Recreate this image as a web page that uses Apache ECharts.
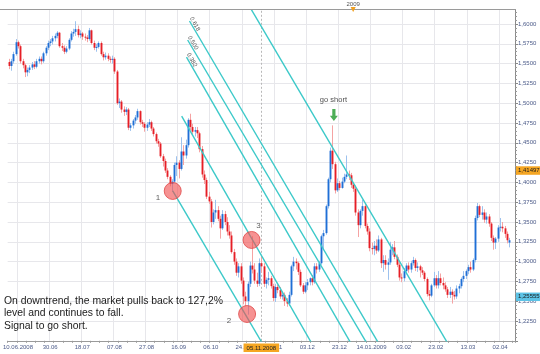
<!DOCTYPE html>
<html><head><meta charset="utf-8">
<script src="https://cdn.jsdelivr.net/npm/echarts@6/dist/echarts.min.js"></script>
<style>html,body{margin:0;padding:0;background:#fff}#c{width:540px;height:354px}</style>
</head><body><div id="c"></div>
<script>
// EUR/USD daily candles, [open, close, low, high], from 04.06.2008
const ohlc = [
[1.5520,1.5470,1.5430,1.5560],[1.5470,1.5530,1.5410,1.5560],[1.5530,1.5620,1.5500,1.5650],[1.5620,1.5770,1.5600,1.5810],
[1.5770,1.5720,1.5690,1.5790],[1.5720,1.5530,1.5500,1.5740],[1.5530,1.5480,1.5440,1.5560],[1.5480,1.5390,1.5330,1.5500],
[1.5390,1.5420,1.5340,1.5450],[1.5420,1.5450,1.5380,1.5480],[1.5450,1.5490,1.5420,1.5520],[1.5490,1.5460,1.5430,1.5530],
[1.5460,1.5530,1.5440,1.5560],[1.5530,1.5560,1.5500,1.5590],[1.5560,1.5530,1.5490,1.5590],[1.5530,1.5630,1.5510,1.5650],
[1.5630,1.5700,1.5600,1.5720],[1.5700,1.5760,1.5670,1.5790],[1.5760,1.5780,1.5720,1.5810],[1.5780,1.5820,1.5740,1.5850],
[1.5820,1.5850,1.5780,1.5880],[1.5850,1.5890,1.5820,1.5910],[1.5890,1.5720,1.5700,1.5900],[1.5720,1.5700,1.5660,1.5760],
[1.5700,1.5650,1.5620,1.5730],[1.5650,1.5690,1.5630,1.5720],[1.5690,1.5800,1.5670,1.5820],[1.5800,1.5880,1.5780,1.5910],
[1.5880,1.5900,1.5840,1.5940],[1.5900,1.5935,1.5850,1.6035],[1.5935,1.5860,1.5830,1.5980],[1.5860,1.5880,1.5820,1.5920],
[1.5880,1.5840,1.5800,1.5900],[1.5840,1.5830,1.5790,1.5880],[1.5830,1.5810,1.5770,1.5860],[1.5810,1.5920,1.5790,1.5950],
[1.5920,1.5760,1.5740,1.5930],[1.5760,1.5700,1.5670,1.5790],[1.5700,1.5710,1.5650,1.5750],[1.5710,1.5760,1.5690,1.5780],
[1.5760,1.5620,1.5600,1.5780],[1.5620,1.5580,1.5540,1.5650],[1.5580,1.5600,1.5550,1.5640],[1.5600,1.5560,1.5530,1.5630],
[1.5560,1.5550,1.5510,1.5590],[1.5550,1.5560,1.5500,1.5600],[1.5560,1.5400,1.5370,1.5580],[1.5400,1.5000,1.4980,1.5420],
[1.5000,1.5020,1.4940,1.5060],[1.5020,1.4920,1.4880,1.5040],[1.4920,1.4890,1.4840,1.4960],[1.4890,1.4920,1.4850,1.4950],
[1.4920,1.4690,1.4660,1.4940],[1.4690,1.4720,1.4650,1.4750],[1.4720,1.4780,1.4680,1.4800],[1.4780,1.4820,1.4740,1.4850],
[1.4820,1.4900,1.4790,1.4930],[1.4900,1.4760,1.4730,1.4910],[1.4760,1.4740,1.4700,1.4790],[1.4740,1.4690,1.4640,1.4760],
[1.4690,1.4730,1.4650,1.4760],[1.4730,1.4760,1.4700,1.4800],[1.4760,1.4680,1.4650,1.4780],[1.4680,1.4610,1.4580,1.4700],
[1.4610,1.4520,1.4490,1.4630],[1.4520,1.4490,1.4450,1.4550],[1.4490,1.4330,1.4310,1.4510],[1.4330,1.4270,1.4200,1.4360],
[1.4270,1.4150,1.4120,1.4300],[1.4150,1.4070,1.4040,1.4180],[1.4070,1.3980,1.3950,1.4090],[1.3980,1.4010,1.3880,1.4040],
[1.4010,1.4220,1.3990,1.4250],[1.4220,1.4250,1.4080,1.4330],[1.4250,1.4170,1.4050,1.4280],[1.4170,1.4390,1.4150,1.4570],
[1.4390,1.4340,1.4220,1.4470],[1.4340,1.4470,1.4300,1.4540],[1.4470,1.4790,1.4440,1.4810],[1.4790,1.4700,1.4660,1.4867],
[1.4700,1.4640,1.4600,1.4740],[1.4640,1.4660,1.4580,1.4700],[1.4660,1.4620,1.4560,1.4700],[1.4620,1.4420,1.4380,1.4640],
[1.4420,1.4100,1.4060,1.4460],[1.4100,1.4030,1.3980,1.4150],[1.4030,1.3820,1.3790,1.4060],[1.3820,1.3760,1.3730,1.3880],
[1.3760,1.3500,1.3430,1.3790],[1.3500,1.3620,1.3470,1.3660],[1.3620,1.3650,1.3540,1.3780],[1.3650,1.3540,1.3510,1.3700],
[1.3540,1.3420,1.3290,1.3580],[1.3420,1.3600,1.3400,1.3650],[1.3600,1.3500,1.3460,1.3640],[1.3500,1.3380,1.3330,1.3560],
[1.3380,1.3330,1.3290,1.3460],[1.3330,1.3120,1.3100,1.3380],[1.3120,1.3000,1.2960,1.3160],[1.3000,1.2860,1.2820,1.3040],
[1.2860,1.2940,1.2800,1.2980],[1.2940,1.2760,1.2720,1.2980],[1.2760,1.2560,1.2460,1.2800],[1.2560,1.2500,1.2440,1.2620],
[1.2500,1.2720,1.2330,1.2750],[1.2720,1.2950,1.2680,1.3000],[1.2950,1.2900,1.2850,1.3320],[1.2900,1.2760,1.2720,1.2980],
[1.2760,1.2720,1.2680,1.2860],[1.2720,1.2980,1.2690,1.3040],[1.2980,1.2940,1.2860,1.3080],[1.2940,1.2720,1.2680,1.2980],
[1.2720,1.2770,1.2660,1.2800],[1.2770,1.2790,1.2700,1.2870],[1.2790,1.2690,1.2660,1.2820],[1.2690,1.2540,1.2500,1.2720],
[1.2540,1.2680,1.2490,1.2720],[1.2680,1.2640,1.2600,1.2710],[1.2640,1.2560,1.2530,1.2680],[1.2560,1.2580,1.2520,1.2620],
[1.2580,1.2500,1.2440,1.2610],[1.2500,1.2470,1.2430,1.2540],[1.2470,1.2580,1.2440,1.2620],[1.2580,1.2940,1.2560,1.2960],
[1.2940,1.3000,1.2880,1.3060],[1.3000,1.2980,1.2900,1.3040],[1.2980,1.2870,1.2830,1.3000],[1.2870,1.2700,1.2680,1.2900],
[1.2700,1.2620,1.2590,1.2730],[1.2620,1.2700,1.2600,1.2740],[1.2700,1.2740,1.2640,1.2780],[1.2740,1.2790,1.2700,1.2800],
[1.2790,1.2740,1.2700,1.2830],[1.2740,1.2940,1.2720,1.2980],[1.2940,1.2900,1.2850,1.2980],[1.2900,1.2980,1.2870,1.3010],
[1.2980,1.3320,1.2960,1.3340],[1.3320,1.3360,1.3160,1.3400],[1.3360,1.3700,1.3340,1.3720],[1.3700,1.4040,1.3670,1.4060],
[1.4040,1.4400,1.4000,1.4440],[1.4400,1.4230,1.4170,1.4720],[1.4230,1.3900,1.3860,1.4260],[1.3900,1.3990,1.3880,1.4050],
[1.3990,1.3930,1.3900,1.4020],[1.3930,1.4010,1.3920,1.4060],[1.4010,1.4070,1.3990,1.4110],[1.4070,1.4100,1.4040,1.4340],
[1.4100,1.4090,1.4030,1.4150],[1.4090,1.3970,1.3930,1.4120],[1.3970,1.3920,1.3880,1.4000],[1.3920,1.3620,1.3580,1.3960],
[1.3620,1.3460,1.3310,1.3660],[1.3460,1.3640,1.3420,1.3660],[1.3640,1.3700,1.3580,1.3780],[1.3700,1.3450,1.3420,1.3730],
[1.3450,1.3380,1.3340,1.3480],[1.3380,1.3170,1.3130,1.3420],[1.3170,1.3160,1.3090,1.3240],[1.3160,1.3200,1.3080,1.3260],
[1.3200,1.3140,1.3100,1.3280],[1.3140,1.3280,1.3120,1.3330],[1.3280,1.2980,1.2920,1.3300],[1.2980,1.3020,1.2870,1.3080],
[1.3020,1.2960,1.2900,1.3080],[1.2960,1.2990,1.2770,1.3040],[1.2990,1.3150,1.2960,1.3250],[1.3150,1.3180,1.3080,1.3220],
[1.3180,1.3060,1.3030,1.3260],[1.3060,1.2960,1.2930,1.3090],[1.2960,1.2800,1.2760,1.2990],[1.2800,1.2790,1.2740,1.2850],
[1.2790,1.2880,1.2750,1.2920],[1.2880,1.2950,1.2840,1.2980],[1.2950,1.2900,1.2860,1.2990],[1.2900,1.2980,1.2860,1.3010],
[1.2980,1.3020,1.2950,1.3060],[1.3020,1.2920,1.2880,1.3040],[1.2920,1.2940,1.2870,1.2990],[1.2940,1.2890,1.2800,1.2960],
[1.2890,1.2860,1.2830,1.2930],[1.2860,1.2780,1.2750,1.2880],[1.2780,1.2590,1.2560,1.2800],[1.2590,1.2570,1.2510,1.2640],
[1.2570,1.2700,1.2550,1.2720],[1.2700,1.2790,1.2680,1.2870],[1.2790,1.2700,1.2660,1.2830],[1.2700,1.2790,1.2660,1.2880],
[1.2790,1.2730,1.2700,1.2850],[1.2730,1.2700,1.2650,1.2800],[1.2700,1.2650,1.2620,1.2740],[1.2650,1.2580,1.2540,1.2680],
[1.2580,1.2620,1.2540,1.2680],[1.2620,1.2580,1.2470,1.2650],[1.2580,1.2560,1.2520,1.2630],[1.2560,1.2660,1.2530,1.2700],
[1.2660,1.2690,1.2600,1.2720],[1.2690,1.2780,1.2660,1.2800],[1.2780,1.2820,1.2740,1.2880],[1.2820,1.2880,1.2780,1.2900],
[1.2880,1.2930,1.2840,1.2960],[1.2930,1.2900,1.2860,1.3000],[1.2900,1.3020,1.2880,1.3040],[1.3020,1.3550,1.2990,1.3580],
[1.3550,1.3700,1.3520,1.3740],[1.3700,1.3590,1.3560,1.3720],[1.3590,1.3620,1.3530,1.3700],[1.3620,1.3530,1.3490,1.3660],
[1.3530,1.3570,1.3480,1.3620],[1.3570,1.3480,1.3440,1.3600],[1.3480,1.3300,1.3260,1.3500],[1.3300,1.3240,1.3150,1.3330],
[1.3240,1.3290,1.3160,1.3310],[1.3290,1.3430,1.3250,1.3460],[1.3430,1.3440,1.3380,1.3550],[1.3440,1.3420,1.3370,1.3500],
[1.3420,1.3350,1.3300,1.3450],[1.3350,1.3270,1.3230,1.3380],[1.3240,1.3270,1.3180,1.3300]
];
const firstDay = '2008-06-04';
const dayCount = 221;
const skipDays = ['25.12.2008', '01.01.2009'];
const tickDates = ['10.06.2008','30.06.2008','18.07.2008','07.08.2008','27.08.2008','16.09.2008','06.10.2008','24.10.2008',
  '13.11.2008','03.12.2008','23.12.2008','14.01.2009','03.02.2009','23.02.2009','13.03.2009','02.04.2009'];
const tickText = ['10.06.2008','30.06','18.07','07.08','27.08','16.09','06.10','24.10',
  '13.11','03.12','23.12','14.01.2009','03.02','23.02','13.03','02.04'];
const priceTicks = {min: 1.2, max: 1.625, step: 0.025};
const markedDate = '05.11.2008';
const yearStart = {date: '02.01.2009', text: '2009'};
// Fibonacci channel lines: [barIndex, price] start and end
const fibLines = [
  {label: '',      from: [71.4, 1.3892], to: [111.0, 1.1940]},
  {label: '',      from: [75.3, 1.4838], to: [133.6, 1.1884]},
  {label: '0.382', from: [77.4, 1.5583], to: [150.7, 1.1884]},
  {label: '0.500', from: [77.9, 1.5798], to: [157.7, 1.1884]},
  {label: '0.618', from: [78.7, 1.6038], to: [162.8, 1.1884]},
  {label: '',      from: [103.2, 1.6303], to: [192.9, 1.1884]}
];
const circles = [[71.4, 1.3892], [103.8, 1.2338], [105.75, 1.3273]];
const circleLabels = [['1', 65.0, 1.3803], ['2', 95.9, 1.2250], ['3', 108.8, 1.3450]];
const signal = {text: 'go short', textAt: [141.4, 1.5040], arrowAt: [141.6, 1.4851]};
const priceTags = [{value: 1.41497, text: '1,41497', bg: '#f5a623'}, {value: 1.25555, text: '1,25555', bg: '#5cc3e6'}];
const note = ['On downtrend, the market pulls back to 127,2%', 'level and continues to fall.', 'Signal to go short.'];

function pad(n){return (n<10?'0':'')+n;}
function makeDates(){
  const out = []; const d = new Date(firstDay + 'T00:00:00Z');
  while (out.length < dayCount) {
    const wd = d.getUTCDay();
    const s = pad(d.getUTCDate()) + '.' + pad(d.getUTCMonth()+1) + '.' + d.getUTCFullYear();
    if (wd !== 0 && wd !== 6 && skipDays.indexOf(s) < 0) out.push(s);
    d.setUTCDate(d.getUTCDate()+1);
  }
  return out;
}
const dates = makeDates();
const candleData = ohlc.map((r, i) => [i, r[0], r[1], r[2], r[3]]);

const chart = echarts.init(document.getElementById('c'), null, {renderer: 'canvas'});
const FONT = 'Liberation Sans';
const lineColor = '#3cc9c9';

const series = [];
series.push({
  type: 'custom', name: 'candles', xAxisIndex: 0, yAxisIndex: 0, z: 5,
  data: candleData, encode: {x: 0, y: [1,2,3,4]},
  renderItem: function(params, api){
    const i = api.value(0), o = api.value(1), c = api.value(2), l = api.value(3), h = api.value(4);
    const po = api.coord([i, o]), pc = api.coord([i, c]), pl = api.coord([i, l]), ph = api.coord([i, h]);
    const w = api.size([1, 0])[0] * 0.82;
    const up = c >= o;
    const x = Math.round(po[0]) + 0.5;
    const top = Math.min(po[1], pc[1]);
    const bh = Math.max(1, Math.abs(po[1] - pc[1]));
    return {type: 'group', children: [
      {type: 'line', shape: {x1: x, y1: ph[1], x2: x, y2: pl[1]}, style: {stroke: up ? '#9dc2ee' : '#f5a3a3', lineWidth: 1}},
      {type: 'rect', shape: {x: x - w/2, y: top, width: w, height: bh}, style: {fill: up ? '#1f6fd6' : '#e61e26'}}
    ]};
  },
  markLine: {silent: true, symbol: 'none', animation: false,
    data: [{xAxis: markedDate}], label: {show: false},
    lineStyle: {type: [2, 2], color: '#b8b8b8', width: 1}}
});
fibLines.forEach(fl => {
  series.push({type: 'line', xAxisIndex: 1, yAxisIndex: 0, z: 6, showSymbol: false, silent: true, animation: false,
    data: [fl.from, fl.to], lineStyle: {color: lineColor, width: 1.4}, clip: true});
});
series.push({type: 'scatter', xAxisIndex: 1, yAxisIndex: 0, z: 8, symbolSize: 17, silent: true, animation: false,
  data: circles, itemStyle: {color: 'rgba(240,80,80,0.78)', borderColor: '#e04848', borderWidth: 1}});
series.push({type: 'scatter', xAxisIndex: 1, yAxisIndex: 0, z: 9, symbolSize: 1, silent: true, animation: false,
  data: circleLabels.map(c => ({value: [c[1], c[2]], name: c[0]})),
  itemStyle: {color: 'rgba(0,0,0,0)'},
  label: {show: true, position: 'inside', formatter: p => p.name, fontFamily: FONT, fontSize: 8, color: '#333'}});
series.push({type: 'scatter', xAxisIndex: 1, yAxisIndex: 0, z: 9, silent: true, animation: false,
  symbol: 'path://M3,0 L7,0 L7,8 L10,8 L5,14 L0,8 L3,8 Z', symbolSize: [8, 12],
  data: [signal.arrowAt], itemStyle: {color: '#1f9a2c'}});
series.push({type: 'scatter', xAxisIndex: 1, yAxisIndex: 0, z: 9, symbolSize: 1, silent: true, animation: false,
  data: [{value: signal.textAt, name: signal.text}], itemStyle: {color: 'rgba(0,0,0,0)'},
  label: {show: true, position: 'inside', formatter: p => p.name, fontFamily: FONT, fontSize: 7.5, color: '#222'}});

const option = {
  animation: false,
  backgroundColor: '#ffffff',
  grid: {left: 0, right: 25, top: 4.2, bottom: 13.2, containLabel: false},
  xAxis: [{
    type: 'category', data: dates, boundaryGap: true, position: 'bottom',
    axisLine: {onZero: false, lineStyle: {color: '#9a9a9a', width: 1}},
    axisTick: {show: true, interval: 3, length: 2, lineStyle: {color: '#9a9a9a'}},
    axisLabel: {show: true, interval: (idx, val) => tickDates.indexOf(val) >= 0,
      formatter: val => { const k = tickDates.indexOf(val); return k >= 0 ? tickText[k] : ''; },
      fontFamily: FONT, fontSize: 6, color: '#4b5a88', margin: 4, hideOverlap: false},
    splitLine: {show: true, interval: (idx, val) => tickDates.indexOf(val) >= 0, lineStyle: {color: '#e7e7eb', width: 1}}
  }, {
    type: 'value', min: -0.5, max: dayCount - 0.5, show: false,
    axisLine: {show: false, onZero: false}, axisTick: {show: false}, axisLabel: {show: false}, splitLine: {show: false}
  }],
  yAxis: [{
    type: 'value', position: 'right', min: priceTicks.min, max: priceTicks.max, interval: priceTicks.step,
    axisLine: {show: true, onZero: false, lineStyle: {color: '#8a8a8a'}},
    axisTick: {show: true, length: 3, lineStyle: {color: '#8a8a8a'}},
    minorTick: {show: true, splitNumber: 5, length: 2, lineStyle: {color: '#9a9a9a'}},
    axisLabel: {showMinLabel: false, showMaxLabel: false, margin: 3, fontFamily: FONT, fontSize: 6, color: '#4b5a88',
      formatter: v => v.toFixed(4).replace('.', ',')},
    splitLine: {show: true, lineStyle: {color: '#e7e7eb', width: 1}}
  }],
  series: series
};
chart.setOption(option);

// overlays placed through the chart's own coordinate conversion
const g = [];
const lineSeriesIndex = 1;
g.push({type: 'rect', z: 50, shape: {x: 0, y: 0, width: 540, height: 9}, style: {fill: '#ffffff'}});
g.push({type: 'line', z: 51, shape: {x1: 0, y1: 9.5, x2: 516, y2: 9.5}, style: {stroke: '#9a9a9a', lineWidth: 1}});
const yx = chart.convertToPixel({xAxisIndex: 0}, yearStart.date);
g.push({type: 'text', z: 52, x: yx, y: 1, style: {text: yearStart.text, fontFamily: FONT, fontSize: 6, fill: '#555', align: 'center', verticalAlign: 'top'}});
g.push({type: 'polygon', z: 52, shape: {points: [[yx - 2.5, 7], [yx + 2.5, 7], [yx, 12]]}, style: {fill: '#f0a020'}});
// marked date box
const mx = chart.convertToPixel({xAxisIndex: 0}, markedDate);
g.push({type: 'text', z: 60, x: mx, y: 343.5, style: {text: markedDate, fontFamily: FONT, fontSize: 6, fill: '#222',
  backgroundColor: '#f5a623', padding: [1.5, 3, 1, 3], align: 'center', verticalAlign: 'top'}});
// price tags
priceTags.forEach(t => {
  const py = chart.convertToPixel({yAxisIndex: 0}, t.value);
  g.push({type: 'text', z: 60, x: 516, y: py, style: {text: t.text, fontFamily: FONT, fontSize: 6, fill: '#1a1a1a',
    backgroundColor: t.bg, padding: [1.5, 2, 1, 2], align: 'left', verticalAlign: 'middle'}});
});
// fib level labels along their lines
fibLines.forEach((fl, k) => {
  if (!fl.label) return;
  const a = chart.convertToPixel({seriesIndex: lineSeriesIndex + k}, fl.from);
  const b = chart.convertToPixel({seriesIndex: lineSeriesIndex + k}, fl.to);
  const ang = Math.atan2(b[1] - a[1], b[0] - a[0]);
  g.push({type: 'text', z: 40, x: a[0] - 1, y: a[1] - 2, rotation: -ang,
    style: {text: fl.label, fontFamily: FONT, fontSize: 6, fill: '#555', align: 'left', verticalAlign: 'bottom'}});
});
// explanatory note
note.forEach((t, k) => {
  g.push({type: 'text', z: 60, x: 4, y: 296 + k * 12.4, style: {text: t, fontFamily: FONT, fontSize: 10.4, fill: '#1a1a1a', align: 'left', verticalAlign: 'top'}});
});
chart.setOption({graphic: g});
</script>
</body></html>
